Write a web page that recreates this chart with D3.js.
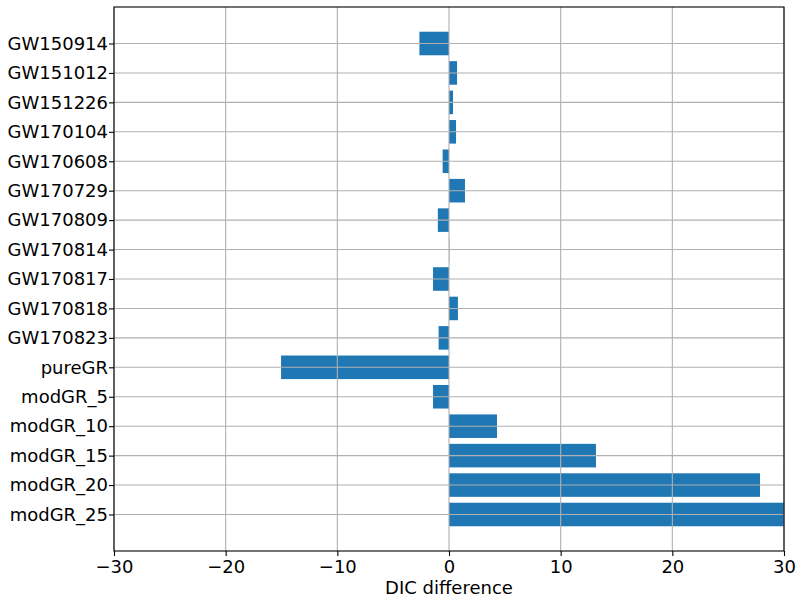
<!DOCTYPE html>
<html>
<head>
<meta charset="utf-8">
<script src="https://cdn.jsdelivr.net/npm/d3@7"></script>
<style>
body { margin: 0; background: #fff; }
svg { display: block; }
text { font-family: "DejaVu Sans", sans-serif; fill: #000; }
</style>
</head>
<body>
<svg id="chart" width="802" height="605"></svg>
<script>
const categories = ["GW150914","GW151012","GW151226","GW170104","GW170608","GW170729","GW170809","GW170814","GW170817","GW170818","GW170823","pureGR","modGR_5","modGR_10","modGR_15","modGR_20","modGR_25"];
const dicDiff = [-2.65, 0.72, 0.36, 0.63, -0.57, 1.43, -1.0, 0.03, -1.43, 0.8, -0.93, -15.04, -1.43, 4.3, 13.16, 27.85, 33.5];
const xTicks = [-30, -20, -10, 0, 10, 20, 30];
const xLabel = "DIC difference";

const W = 802, H = 605;
const m = {left: 114, right: W - 784, top: 7, bottom: H - 551};
const svg = d3.select("#chart");
const iw = W - m.left - m.right, ih = H - m.top - m.bottom;
const g = svg.append("g").attr("transform", `translate(${m.left},${m.top})`);

const x = d3.scaleLinear().domain([-30, 30]).range([0, iw]);
const n = categories.length;
// matplotlib-style: index 0 at top, bar height 0.8, 5% margins
const lo = -0.4, hi = (n - 1) + 0.4, span = hi - lo;
const y = d3.scaleLinear().domain([lo - 0.05 * span, hi + 0.05 * span]).range([0, ih]);

g.append("defs").append("clipPath").attr("id", "clip")
  .append("rect").attr("width", iw).attr("height", ih);

// bars
g.append("g").attr("clip-path", "url(#clip)")
  .selectAll("rect").data(dicDiff).join("rect")
  .attr("x", d => x(Math.min(0, d)))
  .attr("width", d => Math.abs(x(d) - x(0)))
  .attr("y", (d, i) => y(i - 0.4))
  .attr("height", (d, i) => y(i + 0.4) - y(i - 0.4))
  .attr("fill", "#1f77b4");

// grid (drawn above bars)
const grid = g.append("g");
grid.selectAll("line.vx").data(xTicks).join("line")
  .attr("x1", d => x(d)).attr("x2", d => x(d))
  .attr("y1", 0).attr("y2", ih)
  .attr("stroke", "#b0b0b0").attr("stroke-width", 1.1);
grid.selectAll("line.hy").data(categories).join("line")
  .attr("x1", 0).attr("x2", iw)
  .attr("y1", (d, i) => y(i)).attr("y2", (d, i) => y(i))
  .attr("stroke", "#b0b0b0").attr("stroke-width", 1.1);

// axes
const fmt = d => d < 0 ? "\u2212" + Math.abs(d) : String(d);
const xAxis = g.append("g").attr("transform", `translate(0,${ih})`)
  .call(d3.axisBottom(x).tickValues(xTicks).tickFormat(fmt).tickSize(5).tickPadding(4));
xAxis.select(".domain").remove();
xAxis.selectAll("line").attr("stroke", "#000").attr("stroke-width", 1.1);
xAxis.selectAll("text").style("font-size", "18px").attr("fill", "#000");

const yAxis = g.append("g")
  .call(d3.axisLeft(y).tickValues(d3.range(n)).tickFormat(i => categories[i]).tickSize(5).tickPadding(1));
yAxis.select(".domain").remove();
yAxis.selectAll("line").attr("stroke", "#000").attr("stroke-width", 1.1);
yAxis.selectAll("text").style("font-size", "18px").attr("fill", "#000");

// frame
g.append("rect").attr("width", iw).attr("height", ih)
  .attr("fill", "none").attr("stroke", "#000").attr("stroke-width", 1.1);

// x label
g.append("text").attr("x", iw / 2).attr("y", ih + 43)
  .attr("text-anchor", "middle").style("font-size", "18px").text(xLabel);
</script>
</body>
</html>
